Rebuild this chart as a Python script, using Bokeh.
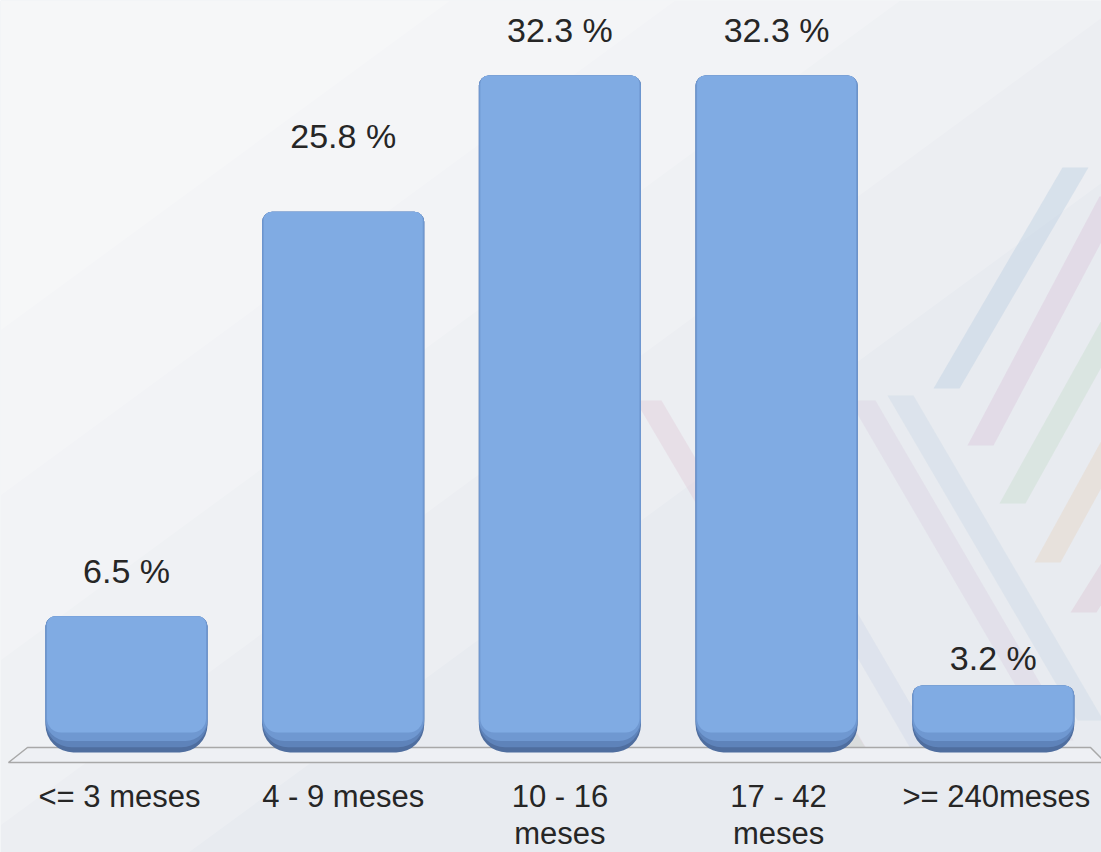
from bokeh.plotting import figure
from bokeh.models import Range1d, ColumnDataSource
from bokeh.core.properties import value
from bokeh.embed import file_html
from bokeh.resources import INLINE

# ---- data ----
categories = ["<= 3 meses", "4 - 9 meses", "10 - 16\nmeses", "17 - 42\nmeses", ">= 240meses"]
percent = [6.5, 25.8, 32.3, 32.3, 3.2]
value_labels = ["6.5 %", "25.8 %", "32.3 %", "32.3 %", "3.2 %"]

# ---- layout (pixels) ----
W, H = 1101, 852
PX_PER_UNIT = 20.96    # vertical pixels per percent
X_PX = 216.7           # pixels per category step
Y0_PX = 752            # pixel row of value 0
X0_PX = 126            # pixel column of first category centre
label_dy = [-45, -76, -45, -45, -27]
cat_dx = [-7, 0, 0, 2, 3]

xs = list(range(len(categories)))


def px_x(px):
    return (px - X0_PX) / X_PX


def px_y(py):
    return (Y0_PX - py) / PX_PER_UNIT


p = figure(width=W, height=H, output_backend="svg", toolbar_location=None,
           x_range=Range1d(px_x(0), px_x(W)),
           y_range=Range1d(px_y(H), px_y(0)),
           min_border_left=0, min_border_right=0, min_border_top=0, min_border_bottom=0)

bg = "#e8ebf0"
p.background_fill_color = bg
p.border_fill_color = bg
p.outline_line_color = None
p.grid.visible = False
p.xaxis.visible = False
p.yaxis.visible = False

# soft background gradient (lighter towards top-left)
for k, a in [(900, 0.18), (750, 0.18), (600, 0.2), (450, 0.2), (300, 0.2)]:
    p.patch([px_x(0), px_x(k * 1.5), px_x(0)], [px_y(0), px_y(0), px_y(k * 1.1)],
            fill_color="white", fill_alpha=a, line_color=None)

# faint watermark stripes (decoration)
stripes_up = [  # (top-right x, top y, bottom-left x, bottom y, colour)
    (1075, 167, 946, 388, "#b8cde0"),
    (1112, 196, 980, 445, "#d9c3d9"),
    (1125, 300, 1012, 503, "#c6dccb"),
    (1125, 420, 1047, 562, "#e6d2bf"),
    (1125, 545, 1083, 612, "#dcc3d3"),
]
for x1, y1, x2, y2, c in stripes_up:
    p.patch([px_x(x1 - 13), px_x(x1 + 13), px_x(x2 + 13), px_x(x2 - 13)],
            [px_y(y1), px_y(y1), px_y(y2), px_y(y2)],
            fill_color=c, fill_alpha=0.4, line_color=None)
stripes_down = [  # (top-left x, top y, bottom-right x, bottom y, colour)
    (648, 400, 860, 760, "#dcc0cf"),
    (720, 400, 930, 760, "#c9d5e6"),
    (900, 395, 1090, 720, "#c3d3e3"),
    (862, 400, 1060, 740, "#d6cbdc"),
    (760, 600, 860, 760, "#c8dccb"),
]
for x1, y1, x2, y2, c in stripes_down:
    p.patch([px_x(x1 - 13), px_x(x1 + 13), px_x(x2 + 13), px_x(x2 - 13)],
            [px_y(y1), px_y(y1), px_y(y2), px_y(y2)],
            fill_color=c, fill_alpha=0.32, line_color=None)

# floor plane
p.patch([px_x(8), px_x(27), px_x(1090), px_x(1105)],
        [px_y(762), px_y(747), px_y(747), px_y(762)],
        fill_color="#eef0f4", line_color="#a8a8a8", line_width=1.5)

src = ColumnDataSource(dict(x=xs, top=percent, lab=value_labels, dy=label_dy))

BW = 0.748
layers = [  # (bottom, colour, width shrink, radius)
    (0.0, "#4f6e9f", 0.0, (10, 10, 28, 28)),
    (0.25, "#5e83ba", 0.0, (10, 10, 26, 26)),
    (0.55, "#6f98d1", 0.0, (10, 10, 22, 22)),
    (0.95, "#80abe3", 0.014, (8, 8, 14, 14)),
]
for b, c, s, r in layers:
    p.vbar(x="x", top="top", bottom=b, width=BW - s, source=src,
           fill_color=c, line_color=None, border_radius=r)

# value labels
p.text(x="x", y="top", text="lab", y_offset="dy", source=src,
       text_align="center", text_baseline="middle",
       text_font=value("Liberation Sans"), text_font_size="34px", text_color="#262626")

# category labels under the floor
cat_src = ColumnDataSource(dict(x=xs, y=[0] * len(xs), lab=categories, dx=cat_dx))
p.text(x="x", y="y", text="lab", x_offset="dx", y_offset=26, source=cat_src,
       text_align="center", text_baseline="top", text_line_height=1.08,
       text_font=value("Liberation Sans"), text_font_size="31px", text_color="#262626")

open("out.html", "w").write(file_html(p, INLINE))
